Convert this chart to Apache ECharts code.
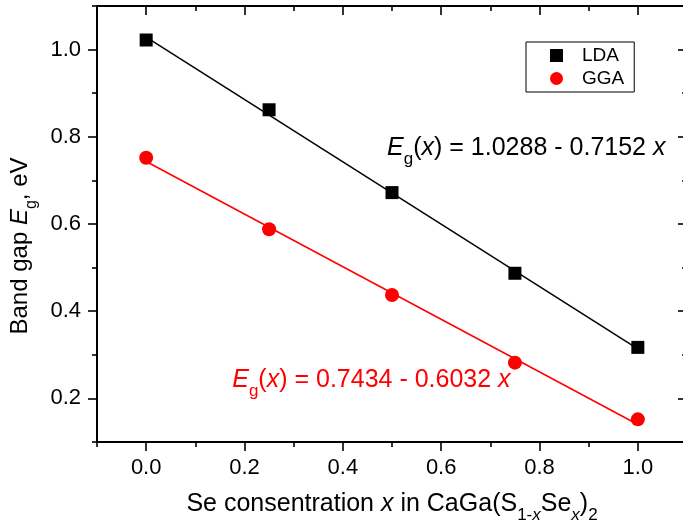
<!DOCTYPE html>
<html>
<head>
<meta charset="utf-8">
<script src="https://cdn.jsdelivr.net/npm/echarts@6/dist/echarts.min.js"></script>
<style>
  html, body { margin: 0; padding: 0; background: #fff; }
  #chart { width: 683px; height: 526px; }
</style>
</head>
<body>
<div id="chart"></div>
<script>
// Se content x in CaGa(S1-xSex)2
const composition = [0, 0.25, 0.5, 0.75, 1.0];
// Band gap values (eV)
const ldaGap = [1.022, 0.862, 0.672, 0.487, 0.317];
const ggaGap = [0.752, 0.588, 0.437, 0.282, 0.152];
// Linear fits Eg(x) = a - b x
const ldaFit = { a: 1.0288, b: 0.7152 };
const ggaFit = { a: 0.7434, b: 0.6032 };
const fitRange = [0, 1.0];
// Tick positions
const xMajorTicks = [0, 0.2, 0.4, 0.6, 0.8, 1.0];
const xMinorTicks = [-0.1, 0.1, 0.3, 0.5, 0.7, 0.9, 1.1];
const yMajorTicks = [0.2, 0.4, 0.6, 0.8, 1.0];
const yMinorTicks = [0.1, 0.3, 0.5, 0.7, 0.9, 1.1];
// Where the fit equations are written (data coordinates of their left edge)
const ldaEqAnchor = [0.49, 0.775];
const ggaEqAnchor = [0.175, 0.243];

const FONT = 'Liberation Sans, Arial, sans-serif';
const X_RANGE = [-0.1, 1.1];
const Y_RANGE = [0.1, 1.1];

function richStyles(size, color) {
  const sub = Math.round(size * 0.66);
  const drop = Math.round(size * 0.9);
  return {
    n:   { fontFamily: FONT, fontSize: size, color: color, lineHeight: size + 6 },
    it:  { fontFamily: FONT, fontSize: size, color: color, fontStyle: 'italic', lineHeight: size + 6 },
    sub: { fontFamily: FONT, fontSize: sub, color: color, lineHeight: sub, padding: [drop, 0, 0, 0] },
    subit: { fontFamily: FONT, fontSize: sub, color: color, fontStyle: 'italic', lineHeight: sub, padding: [drop, 0, 0, 0] }
  };
}

function fitLine(fit) {
  return fitRange.map(x => [x, fit.a - fit.b * x]);
}

function equation(fit) {
  return '{it|E}{sub|g}{n|(}{it|x}{n|) = ' + fit.a.toFixed(4) + ' - ' + fit.b.toFixed(4) + ' }{it|x}';
}

const spine = { show: true, onZero: false, lineStyle: { color: '#000', width: 2 } };
const noSpine = { show: false, onZero: false };
const tickStyle = { color: '#000', width: 1.6 };
const fmt = v => v.toFixed(1);

function makeX(position, values, len, inside, withLine, withLabel, extra) {
  return Object.assign({
    type: 'value', position: position, gridIndex: 0,
    min: X_RANGE[0], max: X_RANGE[1],
    axisLine: withLine ? spine : noSpine,
    axisTick: { show: true, customValues: values, length: len, inside: inside, lineStyle: tickStyle },
    axisLabel: withLabel
      ? { show: true, customValues: values, formatter: fmt, fontFamily: FONT, fontSize: 22, color: '#000', margin: 15 }
      : { show: false },
    splitLine: { show: false }
  }, extra || {});
}

function makeY(position, values, len, inside, withLine, withLabel, extra) {
  return Object.assign({
    type: 'value', position: position, gridIndex: 0,
    min: Y_RANGE[0], max: Y_RANGE[1],
    axisLine: withLine ? spine : noSpine,
    axisTick: { show: true, customValues: values, length: len, inside: inside, lineStyle: tickStyle },
    axisLabel: withLabel
      ? { show: true, customValues: values, formatter: fmt, fontFamily: FONT, fontSize: 22, color: '#000', margin: 16 }
      : { show: false },
    splitLine: { show: false }
  }, extra || {});
}

const chart = echarts.init(document.getElementById('chart'), null, { renderer: 'canvas' });

const option = {
  animation: false,
  backgroundColor: '#fff',
  grid: { left: 97, top: 6, right: -4, bottom: 84, containLabel: false, outerBoundsMode: 'none' },
  legend: {
    data: ['LDA', 'GGA'],
    orient: 'vertical',
    left: 526, top: 42,
    itemWidth: 13, itemHeight: 13, itemGap: 4,
    padding: [4, 10, 4, 24],
    borderColor: '#000', borderWidth: 1, borderRadius: 0,
    formatter: name => '{t|' + name + '}',
    textStyle: {
      rich: { t: { fontFamily: FONT, fontSize: 19, color: '#000', padding: [0, 0, 0, 14] } }
    }
  },
  xAxis: [
    makeX('bottom', xMajorTicks, 9, false, true, true, {
      name: '{n|Se consentration }{it|x}{n| in CaGa(S}{sub|1-}{subit|x}{n|Se}{subit|x}{n|)}{sub|2}',
      nameLocation: 'middle', nameGap: 45,
      nameTextStyle: { fontFamily: FONT, fontSize: 25, color: '#000', rich: richStyles(25, '#000') }
    }),
    makeX('bottom', xMinorTicks, 5, false, false, false),
    makeX('top', xMajorTicks, 9, true, true, false),
    makeX('top', xMinorTicks, 5, true, false, false)
  ],
  yAxis: [
    makeY('left', yMajorTicks, 9, false, true, true, {
      name: '{n|Band gap }{it|E}{sub|g}{n|, eV}',
      nameLocation: 'middle', nameGap: 58, nameRotate: 90,
      nameTextStyle: { fontFamily: FONT, fontSize: 24, color: '#000', rich: richStyles(24, '#000'), padding: [0, 44, 0, 0] }
    }),
    makeY('left', yMinorTicks, 5, false, false, false),
    makeY('right', yMajorTicks, 9, true, true, false),
    makeY('right', yMinorTicks, 5, true, false, false)
  ],
  series: [
    {
      name: 'LDA fit', type: 'line', xAxisIndex: 0, yAxisIndex: 0,
      data: fitLine(ldaFit), showSymbol: false, silent: true,
      lineStyle: { color: '#000', width: 1.5 }, z: 2
    },
    {
      name: 'GGA fit', type: 'line', xAxisIndex: 0, yAxisIndex: 0,
      data: fitLine(ggaFit), showSymbol: false, silent: true,
      lineStyle: { color: '#ff0000', width: 1.5 }, z: 2
    },
    {
      name: 'LDA', type: 'scatter', xAxisIndex: 0, yAxisIndex: 0,
      data: composition.map((x, i) => [x, ldaGap[i]]),
      symbol: 'rect', symbolSize: 13,
      itemStyle: { color: '#000', opacity: 1 }, z: 3
    },
    {
      name: 'GGA', type: 'scatter', xAxisIndex: 0, yAxisIndex: 0,
      data: composition.map((x, i) => [x, ggaGap[i]]),
      symbol: 'circle', symbolSize: 14,
      itemStyle: { color: '#ff0000', opacity: 1 }, z: 3
    },
    {
      name: 'LDA equation', type: 'scatter', xAxisIndex: 0, yAxisIndex: 0,
      data: [ldaEqAnchor], symbolSize: 0, silent: true,
      itemStyle: { opacity: 1 },
      label: {
        show: true, position: 'right', distance: 0, opacity: 1,
        formatter: () => equation(ldaFit),
        rich: richStyles(25, '#000')
      }
    },
    {
      name: 'GGA equation', type: 'scatter', xAxisIndex: 0, yAxisIndex: 0,
      data: [ggaEqAnchor], symbolSize: 0, silent: true,
      itemStyle: { opacity: 1 },
      label: {
        show: true, position: 'right', distance: 0, opacity: 1,
        formatter: () => equation(ggaFit),
        rich: richStyles(25, '#ff0000')
      }
    }
  ]
};

chart.setOption(option);
</script>
</body>
</html>
